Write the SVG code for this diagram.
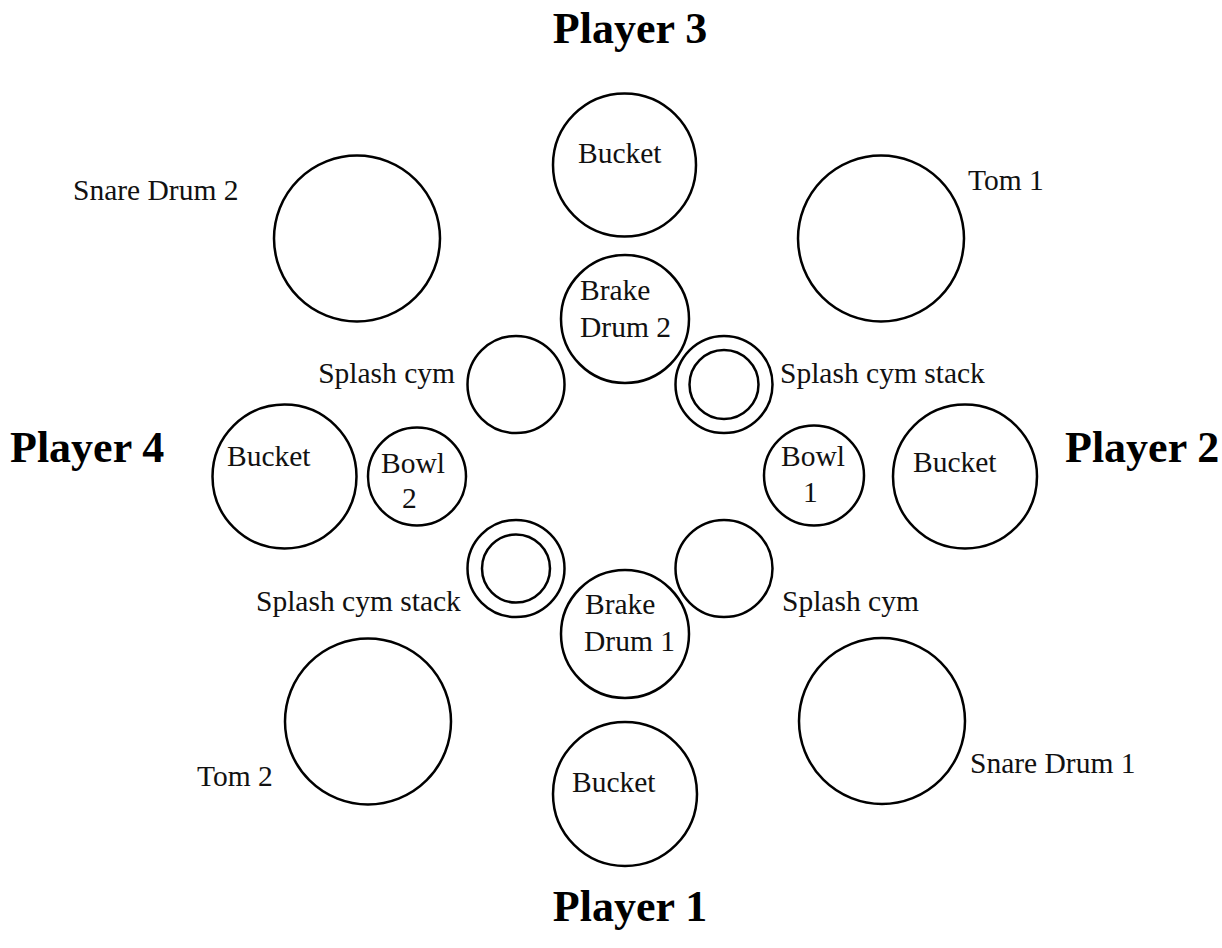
<svg xmlns="http://www.w3.org/2000/svg" width="1222" height="948" viewBox="0 0 1222 948">
<style>
.c{fill:none;stroke:#000;stroke-width:2.5}
.t{font-family:"Liberation Serif","DejaVu Serif",serif;font-size:29.5px;fill:#111}
.p{font-family:"Liberation Serif","DejaVu Serif",serif;font-size:44px;font-weight:bold;fill:#000}
</style>
<rect width="1222" height="948" fill="#fff"/>
<g id="connectors"/>
<g id="player3"><text class="p" x="630" y="43" text-anchor="middle">Player 3</text></g>
<g id="player1"><text class="p" x="630" y="921" text-anchor="middle">Player 1</text></g>
<g id="player4"><text class="p" x="10" y="462">Player 4</text></g>
<g id="player2"><text class="p" x="1065" y="462">Player 2</text></g>

<g id="bucket3"><circle class="c" cx="624.5" cy="165" r="71.5"/><text class="t" x="578" y="163">Bucket</text></g>
<g id="brakedrum2"><circle class="c" cx="625" cy="319" r="64"/><text class="t" x="580" y="300">Brake</text><text class="t" x="580" y="337">Drum 2</text></g>
<g id="splash-ul"><circle class="c" cx="516" cy="384.5" r="48.5"/><text class="t" x="455" y="383" text-anchor="end">Splash cym</text></g>
<g id="stack-ur"><circle class="c" cx="724" cy="384.5" r="48.5"/><circle class="c" cx="724" cy="384.5" r="34.5"/><text class="t" x="780" y="383">Splash cym stack</text></g>
<g id="snare2"><circle class="c" cx="357" cy="238.5" r="83"/><text class="t" x="73" y="200">Snare Drum 2</text></g>
<g id="tom1"><circle class="c" cx="881" cy="238.5" r="83"/><text class="t" x="968" y="190">Tom 1</text></g>
<g id="bucket4"><circle class="c" cx="284.5" cy="476.5" r="72"/><text class="t" x="227" y="466">Bucket</text></g>
<g id="bowl2"><circle class="c" cx="417" cy="476.5" r="49"/><text class="t" x="381" y="473">Bowl</text><text class="t" x="402" y="508">2</text></g>
<g id="bowl1"><circle class="c" cx="814" cy="475.5" r="50"/><text class="t" x="781" y="466">Bowl</text><text class="t" x="803" y="502">1</text></g>
<g id="bucket2"><circle class="c" cx="965" cy="476.5" r="72"/><text class="t" x="913" y="472">Bucket</text></g>
<g id="stack-ll"><circle class="c" cx="516" cy="568.5" r="48.5"/><circle class="c" cx="516" cy="568.5" r="34"/><text class="t" x="256" y="611">Splash cym stack</text></g>
<g id="splash-lr"><circle class="c" cx="724" cy="568.5" r="48.5"/><text class="t" x="782" y="611">Splash cym</text></g>
<g id="brakedrum1"><circle class="c" cx="625" cy="634" r="64"/><text class="t" x="585" y="614">Brake</text><text class="t" x="584" y="651">Drum 1</text></g>
<g id="tom2"><circle class="c" cx="368" cy="721.5" r="83"/><text class="t" x="197" y="786">Tom 2</text></g>
<g id="snare1"><circle class="c" cx="882" cy="721" r="83"/><text class="t" x="970" y="773">Snare Drum 1</text></g>
<g id="bucket1"><circle class="c" cx="625" cy="794" r="72"/><text class="t" x="572" y="792">Bucket</text></g>
</svg>
